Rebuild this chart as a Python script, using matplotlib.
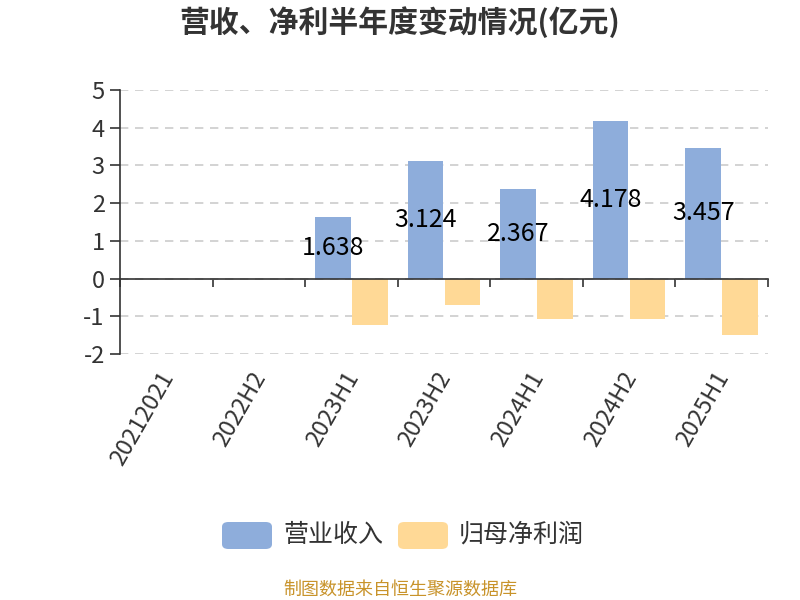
import matplotlib
matplotlib.use("Agg")
import matplotlib.pyplot as plt
import matplotlib.transforms as mtransforms
import numpy as np
from matplotlib.patches import FancyBboxPatch

plt.rcParams['font.family'] = ['Noto Sans CJK SC', 'DejaVu Sans']

categories = ["20212021", "2022H2", "2023H1", "2023H2", "2024H1", "2024H2", "2025H1"]
revenue = [np.nan, np.nan, 1.638, 3.124, 2.367, 4.178, 3.457]
profit = [np.nan, np.nan, -1.24, -0.70, -1.06, -1.06, -1.49]
revenue_labels = ["", "", "1.638", "3.124", "2.367", "4.178", "3.457"]
series_names = ["营业收入", "归母净利润"]
title = "营收、净利半年度变动情况(亿元)"
footer = "制图数据来自恒生聚源数据库"
yticks = [-2, -1, 0, 1, 2, 3, 4, 5]

blue = "#8EADDB"
orange = "#FFD996"

fig = plt.figure(figsize=(8, 6), dpi=100)
ax = fig.add_axes([0.15, 0.41, 0.81, 0.44])

x = np.arange(len(categories))
w = 0.385
ax.bar(x - 0.2, revenue, width=w, color=blue, zorder=3)
ax.bar(x + 0.2, profit, width=w, color=orange, zorder=3)

for xi, v, lab in zip(x, revenue, revenue_labels):
    if lab:
        ax.text(xi - 0.2, v / 2, lab, ha='center', va='center', fontsize=18,
                color='black', zorder=5)

ax.set_xlim(-0.5, len(categories) - 0.5)
ax.set_ylim(-2, 5)
ax.set_yticks(yticks)
ax.set_yticklabels([str(t) for t in yticks], fontsize=17, color='#333333')
ax.yaxis.grid(True, linestyle=(0, (5, 4)), color='#cccccc', linewidth=1.2, zorder=0)

for s in ['top', 'right']:
    ax.spines[s].set_visible(False)
ax.spines['left'].set_color('#333333')
ax.spines['left'].set_linewidth(1.2)
ax.spines['bottom'].set_position(('data', 0))
ax.spines['bottom'].set_color('#333333')
ax.spines['bottom'].set_linewidth(1.2)
ax.spines['bottom'].set_zorder(4)

ax.tick_params(axis='y', length=7, width=1.2, color='#333333', pad=4)
ax.set_xticks(x)
ax.set_xticklabels(categories, rotation=60, ha='right', rotation_mode='anchor',
                   fontsize=17, color='#333333')
ax.tick_params(axis='x', which='major', length=0, pad=64)
ax.set_xticks(np.arange(len(categories) + 1) - 0.5, minor=True)
ax.tick_params(axis='x', which='minor', length=6, width=1.2, color='#333333')
shift = mtransforms.ScaledTranslation(-8 / 100, 0, fig.dpi_scale_trans)
for lbl in ax.get_xticklabels():
    lbl.set_transform(lbl.get_transform() + shift)

fig.text(0.5, 1 - 22 / 600, title, ha='center', va='center', fontsize=21.5,
         fontweight='bold', color='#333333')

# legend
for (bx, col, name) in [(222, blue, series_names[0]), (398, orange, series_names[1])]:
    p = FancyBboxPatch((bx / 800, 1 - 549 / 600), 50 / 800, 27 / 600,
                       boxstyle="round,pad=0,rounding_size=0.008",
                       transform=fig.transFigure, facecolor=col, edgecolor='none')
    fig.patches.append(p)
    fig.text((bx + 61) / 800, 1 - 535 / 600, name, ha='left', va='center',
             fontsize=18, color='#333333')

fig.text(0.5, 1 - 590 / 600, footer, ha='center', va='center', fontsize=13,
         color='#C8932A')

fig.savefig("out.png", dpi=100)
